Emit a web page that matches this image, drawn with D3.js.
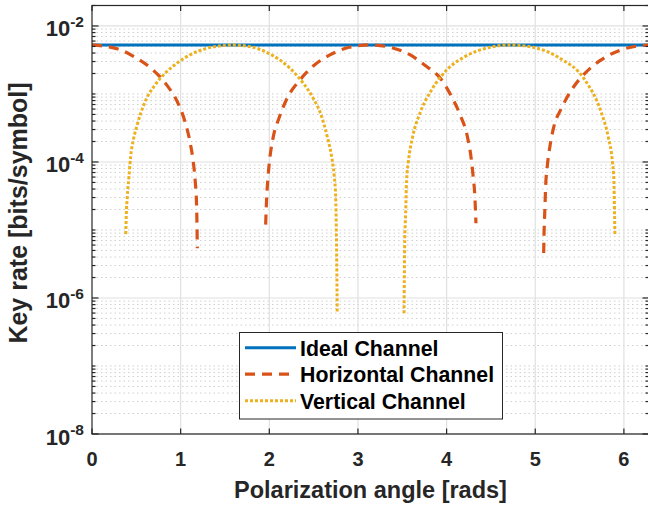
<!DOCTYPE html>
<html>
<head>
<meta charset="utf-8">
<script src="https://cdn.jsdelivr.net/npm/d3@7"></script>
<style>
  body { margin: 0; background: #fff; }
  svg { display: block; font-family: "Liberation Sans", Arial, sans-serif; font-weight: bold; }
</style>
</head>
<body>
<svg width="648" height="506"></svg>
<script>
const TWO_PI = 6.2832;

// key rate vs polarization angle
const idealAngle = [0, TWO_PI];
const idealRate = [5.26e-3, 5.26e-3];

const horizAngle1 = [0, 0.293, 0.504, 0.688, 0.842, 0.962, 1.049, 1.105, 1.142, 1.165, 1.179, 1.184, 1.188];
const horizRate1 = [5.26e-3, 4.59e-3, 3.35e-3, 2.25e-3, 1.36e-3, 7.7e-4, 3.92e-4, 1.99e-4, 1.01e-4, 5.1e-5, 2.47e-5, 1.26e-5, 5.4e-6];
const horizAngle2 = [1.959, 1.970, 1.985, 2.007, 2.045, 2.109, 2.201, 2.346, 2.496, 2.684, 2.902, 3.142, 3.361, 3.581, 3.767, 3.936, 4.057, 4.158, 4.233, 4.274, 4.300, 4.319, 4.331];
const horizRate2 = [1.2e-5, 2.92e-5, 5.9e-5, 1.16e-4, 2.35e-4, 4.4e-4, 8.65e-4, 1.61e-3, 2.58e-3, 3.75e-3, 4.86e-3, 5.26e-3, 4.86e-3, 3.81e-3, 2.58e-3, 1.66e-3, 9.1e-4, 4.74e-4, 2.41e-4, 1.22e-4, 6.1e-5, 3.1e-5, 1.26e-5];
const horizAngle3 = [5.095, 5.101, 5.109, 5.117, 5.135, 5.165, 5.21, 5.297, 5.41, 5.56, 5.729, 5.936, 6.18, TWO_PI];
const horizRate3 = [4.6e-6, 1.06e-5, 2.08e-5, 4.3e-5, 8.5e-5, 1.68e-4, 3.3e-4, 6.2e-4, 1.15e-3, 2.01e-3, 3.09e-3, 4.29e-3, 5.13e-3, 5.26e-3];

const vertAngle1 = [0.381, 0.386, 0.398, 0.417, 0.436, 0.466, 0.504, 0.549, 0.617, 0.711, 0.823, 0.955, 1.105, 1.294, 1.519, 1.571, 1.782, 2.008, 2.233, 2.383, 2.496, 2.591, 2.654, 2.703, 2.733, 2.749, 2.756, 2.761, 2.766];
const vertRate1 = [8.7e-6, 1.57e-5, 3.09e-5, 6.1e-5, 1.2e-4, 2.11e-4, 3.3e-4, 5.2e-4, 8.65e-4, 1.36e-3, 2.01e-3, 2.82e-3, 3.75e-3, 4.7e-3, 5.2e-3, 5.26e-3, 4.97e-3, 3.87e-3, 2.39e-3, 1.44e-3, 8.65e-4, 4.63e-4, 2.35e-4, 1.2e-4, 6.1e-5, 3.09e-5, 1.0e-5, 3.24e-6, 5.96e-7];
const vertAngle2 = [3.520, 3.523, 3.527, 3.538, 3.549, 3.567, 3.617, 3.699, 3.831, 4.0, 4.207, 4.489, 4.712, 4.977, 5.278, 5.56, 5.748, 5.823, 5.872, 5.887, 5.895, 5.899];
const vertRate2 = [5.96e-7, 1.84e-6, 5.7e-6, 1.76e-5, 5.4e-5, 9.6e-5, 2.35e-4, 5.2e-4, 1.15e-3, 2.25e-3, 3.54e-3, 4.86e-3, 5.26e-3, 4.86e-3, 3.35e-3, 1.61e-3, 5.2e-4, 2.35e-4, 9.6e-5, 5.4e-5, 1.57e-5, 8.4e-6];

const xTicks = [0, 1, 2, 3, 4, 5, 6];
const yTicks = [1e-8, 1e-6, 1e-4, 1e-2];
const yTickExp = ["-8", "-6", "-4", "-2"];
const legendNames = ["Ideal Channel", "Horizontal Channel", "Vertical Channel"];

const zip = (xs, ys) => xs.map((x, i) => ({x: x, v: ys[i]}));

const series = [
  {name: legendNames[0], color: "#0072BD", dash: null, width: 3, parts: [zip(idealAngle, idealRate)]},
  {name: legendNames[1], color: "#D95319", dash: "10,7", width: 3.2,
    parts: [zip(horizAngle1, horizRate1), zip(horizAngle2, horizRate2), zip(horizAngle3, horizRate3)]},
  {name: legendNames[2], color: "#EDB120", dash: "3,2", width: 3,
    parts: [zip(vertAngle1, vertRate1), zip(vertAngle2, vertRate2)]}
];

const svg = d3.select("svg");
const padL = 92, padR = 649, padT = 5.5, padB = 434;

const x = d3.scaleLinear().domain([0, TWO_PI]).range([padL, padR]);
const y = d3.scaleLog().domain([1e-8, 2e-2]).range([padB, padT]);

// minor values: k * 10^n, skipping labelled decades
const minor = [];
for (let e = -8; e <= -2; e++) {
  for (let k = 1; k <= 9; k++) {
    const v = k * Math.pow(10, e);
    if (v > 2.0001e-2) continue;
    if (k === 1 && e % 2 === 0) continue;
    minor.push(v);
  }
}

const grid = svg.append("g");
grid.selectAll(".ymin").data(minor).join("line")
  .attr("x1", padL).attr("x2", padR)
  .attr("y1", d => y(d)).attr("y2", d => y(d))
  .attr("stroke", "#cfcfcf").attr("stroke-width", 1).attr("stroke-dasharray", "1.5,3");
grid.selectAll(".ymaj").data(yTicks).join("line")
  .attr("x1", padL).attr("x2", padR)
  .attr("y1", d => y(d)).attr("y2", d => y(d))
  .attr("stroke", "#e0e0e0").attr("stroke-width", 1.2);
grid.selectAll(".xmaj").data(xTicks.slice(1)).join("line")
  .attr("x1", d => x(d)).attr("x2", d => x(d))
  .attr("y1", padT).attr("y2", padB)
  .attr("stroke", "#e0e0e0").attr("stroke-width", 1.2);

// curves
const line = d3.line().x(d => x(d.x)).y(d => y(d.v)).curve(d3.curveMonotoneX);
const plot = svg.append("g");
series.forEach(s => {
  s.parts.forEach(p => {
    plot.append("path").attr("d", line(p))
      .attr("fill", "none").attr("stroke", s.color).attr("stroke-width", s.width)
      .attr("stroke-dasharray", s.dash);
  });
});

// box and ticks
const axisColor = "#262626";
const box = svg.append("g").attr("stroke", axisColor).attr("stroke-width", 1.2).attr("fill", "none");
box.append("rect").attr("x", padL).attr("y", padT).attr("width", padR - padL).attr("height", padB - padT);
xTicks.forEach(t => {
  box.append("line").attr("x1", x(t)).attr("x2", x(t)).attr("y1", padB).attr("y2", padB - 5.5);
  box.append("line").attr("x1", x(t)).attr("x2", x(t)).attr("y1", padT).attr("y2", padT + 5.5);
});
yTicks.forEach(t => {
  box.append("line").attr("x1", padL).attr("x2", padL + 6.5).attr("y1", y(t)).attr("y2", y(t));
  box.append("line").attr("x1", padR).attr("x2", padR - 6.5).attr("y1", y(t)).attr("y2", y(t));
});
minor.forEach(t => {
  box.append("line").attr("x1", padL).attr("x2", padL + 3.5).attr("y1", y(t)).attr("y2", y(t));
  box.append("line").attr("x1", padR).attr("x2", padR - 3.5).attr("y1", y(t)).attr("y2", y(t));
});

// tick labels
svg.append("g").selectAll("text").data(xTicks).join("text")
  .attr("x", d => x(d)).attr("y", 466)
  .attr("text-anchor", "middle").attr("font-size", 20).attr("fill", axisColor)
  .text(d => d);

const yl = svg.append("g").selectAll("text").data(yTicks).join("text")
  .attr("x", 84).attr("y", d => y(d) + 10.5)
  .attr("text-anchor", "end").attr("font-size", 22).attr("fill", axisColor);
yl.append("tspan").text("10");
yl.append("tspan").attr("dy", -9.5).attr("font-size", 15.5).text((d, i) => yTickExp[i]);

// axis titles
svg.append("text").attr("x", (padL + padR) / 2).attr("y", 498)
  .attr("text-anchor", "middle").attr("font-size", 23.5).attr("fill", axisColor)
  .text("Polarization angle [rads]");
svg.append("text").attr("transform", "translate(27,213) rotate(-90)")
  .attr("text-anchor", "middle").attr("font-size", 25).attr("fill", axisColor)
  .text("Key rate [bits/symbol]");

// legend
const lg = svg.append("g");
lg.append("rect").attr("x", 239.5).attr("y", 332.5).attr("width", 263).attr("height", 86.5)
  .attr("fill", "#fff").attr("stroke", axisColor).attr("stroke-width", 1);
series.forEach((s, i) => {
  const ly = 347.7 + i * 26.5;
  lg.append("line").attr("x1", 245).attr("x2", 296).attr("y1", ly).attr("y2", ly)
    .attr("stroke", s.color).attr("stroke-width", s.width).attr("stroke-dasharray", s.dash);
  lg.append("text").attr("x", 300).attr("y", ly + 8).attr("font-size", 21.3).attr("fill", "#000")
    .text(s.name);
});
</script>
</body>
</html>
